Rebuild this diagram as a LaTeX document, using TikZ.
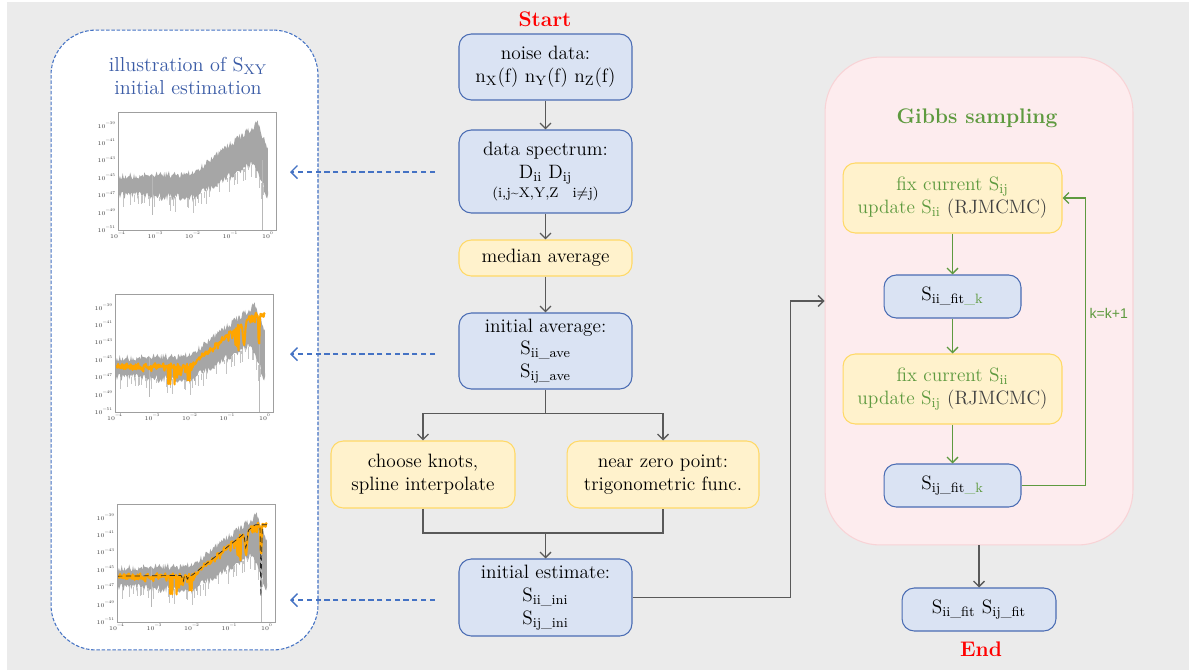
\documentclass[tikz,border=0pt]{standalone}
\usepackage{fontspec}
\newfontfamily\arialfont{Liberation Sans}
\usetikzlibrary{positioning,arrows.meta}
\definecolor{bgGrey}{HTML}{EBEBEB}
\definecolor{blueFill}{HTML}{DAE3F3}
\definecolor{blueLine}{HTML}{4A6CB3}
\definecolor{yellowFill}{HTML}{FFF2CC}
\definecolor{yellowLine}{HTML}{FFD966}
\definecolor{pinkFill}{HTML}{FDECEE}
\definecolor{pinkLine}{HTML}{F8D3D6}
\definecolor{gibbsGreen}{HTML}{5E9A3F}
\definecolor{arrowGrey}{HTML}{595959}
\definecolor{dashBlue}{HTML}{4472C4}
\definecolor{titleBlue}{HTML}{3A5BA6}
\definecolor{bandGrey}{HTML}{A6A6A6}
\definecolor{spikeGrey}{HTML}{C4C4C4}
\definecolor{specOrange}{HTML}{FFA500}
\definecolor{textGrey}{HTML}{404040}
\tikzset{
    boxText/.style={font=\fontsize{11}{13}\selectfont, align=center, inner sep=0pt},
    blueBox/.style={boxText, draw=blueLine, fill=blueFill, line width=0.6pt, rounded corners=7pt, minimum width=3.46cm},
    yellowBox/.style={boxText, draw=yellowLine, fill=yellowFill, line width=0.6pt, rounded corners=7pt},
    flowArrow/.style={draw=arrowGrey, line width=0.75pt, -{Straight Barb[length=1.1mm,width=2.2mm]}},
    flowLine/.style={draw=arrowGrey, line width=0.75pt},
    greenArrow/.style={draw=gibbsGreen, line width=0.75pt, -{Straight Barb[length=1.1mm,width=2.2mm]}},
    dashArrow/.style={draw=dashBlue, line width=0.8pt, dashed, dash pattern=on 3pt off 2pt, -{Straight Barb[length=1.3mm,width=2.6mm]}},
    redLabel/.style={font=\fontsize{12}{14}\selectfont\bfseries, text=red},
    tickLbl/.style={font=\fontsize{3.3}{4}\selectfont, text=black!75, inner sep=0.6pt},
}
\tikzset{
    specPlot/.pic={
        \pgfmathsetseed{17}
        \fill[white] (0,0) rectangle (158,118);
        \begin{scope}
            \clip (0,0) rectangle (158,118);
            \fill[bandGrey] plot[domain=0:1,samples=160] ({150*\x},{13+(-39-up(\x)-0.4*rand)*8.7})
                -- plot[domain=1:0,samples=160] ({150*\x},{13+(-39-lo(\x)-0.5*rand)*8.7}) -- cycle;
            \foreach \k in {1,...,50}{
                \pgfmathsetmacro\st{rnd}
                \pgfmathsetmacro\sd{lo(\st)-0.3-1.6*rnd}
                \draw[spikeGrey, line width=0.35pt] ({150*\st},{13+(-39-lo(\st))*8.7}) -- ({150*\st},{13+(-39-\sd)*8.7});
            }
            \draw[bandGrey!80, line width=0.4pt] (34,{13+5.9*8.7}) -- (34,{13+10.4*8.7});
            \draw[bandGrey!80, line width=0.4pt] (144,{13+4*8.7}) -- (144,{13+13.5*8.7});
            \ifnum#1>0
                \draw[specOrange, line width=1.2pt, line join=round]
                    plot[domain=0:1,samples=240] ({150*\x},{13+(-39-mid(\x)-dip(\x)-0.3*rand+spk(\x)*rnd^5)*8.7});
            \fi
            \ifnum#1>1
                \draw[black!85, line width=0.4pt, densely dashed]
                    plot[domain=0:1,samples=200] ({150*\x},{13+(-39-mid(\x)-0.7*dip(\x)-deep(\x))*8.7});
            \fi
        \end{scope}
        \draw[gray!75, line width=0.4pt] (0,0) rectangle (158,118);
        \foreach \v in {39,41,...,51}
            \node[tickLbl, anchor=east] at (-0.5,{13+(\v-39)*8.7}) {10\textsuperscript{−\v}};
        \foreach \e/\p in {4/0,3/0.25,2/0.5,1/0.75}
            \node[tickLbl, anchor=north] at ({150*\p},118.5) {10\textsuperscript{−\e}};
        \node[tickLbl, anchor=north] at (150,118.5) {10\textsuperscript{0}};
    }
}
\begin{document}
\begin{tikzpicture}[x=0.02cm, y=-0.02cm,
    declare function={
        up(\t)=\t<0.5 ? -44.9+0.6*\t : (\t<0.93 ? -44.6+(\t-0.5)*13.5 : -38.8-(\t-0.93)*45);
        lo(\t)=\t<0.5 ? -47.0-0.8*\t : (\t<0.9 ? -47.4+(\t-0.5)*10 : -43.4-(\t-0.9)*40);
        mid(\t)=\t<0.5 ? -45.8+0.2*\t : (\t<0.92 ? -45.7+(\t-0.5)*13.8 : -39.9);
        dip(\t)=-1.2*max(0,1-abs(\t-0.44)/0.01)-0.8*max(0,1-abs(\t-0.47)/0.008)-2.8*max(0,1-abs(\t-0.86)/0.015)-4.5*max(0,1-abs(\t-0.96)/0.007);
        spk(\t)=(\t>0.35 && \t<0.5) ? 2.5 : ((\t>0.8 && \t<0.9) ? 3 : 0.6);
        deep(\t)=-7*max(0,1-abs(\t-0.96)/0.006);
    }]
    \useasboundingbox (0,0) rectangle (1189,670);
    \fill[bgGrey] (7,2) rectangle (1189,670);

    % Gibbs sampling area
    \node[draw=pinkLine, fill=pinkFill, line width=0.6pt, rounded corners=1.1cm,
          minimum width=6.16cm, minimum height=9.76cm, inner sep=0pt] (gibbs) at (979,301) {};
    \node[font=\fontsize{12}{14}\selectfont\bfseries, text=gibbsGreen] (gibbsTitle) at (977,118) {Gibbs sampling};

    % illustration panel
    \node[draw=dashBlue, fill=white, line width=0.6pt, dashed, dash pattern=on 2pt off 1pt,
          rounded corners=0.9cm, minimum width=5.34cm, minimum height=12.4cm, inner sep=0pt] (panel) at (184.5,340) {};
    \node[font=\fontsize{11.5}{13}\selectfont, text=titleBlue, align=center] (panelTitle) at (188,76)
        {illustration of S\textsubscript{XY}\\initial estimation};
    \pic at (118,112) {specPlot=0};
    \pic at (115,294) {specPlot=1};
    \pic at (117,504) {specPlot=2};

    % main flow
    \node[redLabel] (startLbl) at (545,19) {Start};
    \node[blueBox, minimum height=1.32cm] (noise) at (545.5,67)
        {noise data:\\n\textsubscript{X}(f) n\textsubscript{Y}(f) n\textsubscript{Z}(f)};
    \node[blueBox, minimum height=1.66cm] (spec) at (545.5,171.5)
        {data spectrum:\\D\textsubscript{ii} D\textsubscript{ij}\\[-2pt]{\fontsize{8}{9}\selectfont(i,j\textasciitilde X,Y,Z\quad i$\neq$j)}};
    \node[yellowBox, minimum width=3.46cm, minimum height=0.72cm] (median) at (545.5,258) {median average};
    \node[blueBox, minimum height=1.52cm] (iniAve) at (545.5,351)
        {initial average:\\S\textsubscript{ii\_ave}\\S\textsubscript{ij\_ave}};
    \node[yellowBox, minimum width=3.68cm, minimum height=1.34cm] (knots) at (423,474.5)
        {choose knots,\\spline interpolate};
    \node[yellowBox, minimum width=3.84cm, minimum height=1.34cm] (zero) at (663,474.5)
        {near zero point:\\trigonometric func.};
    \node[blueBox, minimum height=1.54cm] (iniEst) at (545.5,597.5)
        {initial estimate:\\S\textsubscript{ii\_ini}\\S\textsubscript{ij\_ini}};

    \draw[flowArrow] (noise) -- (spec);
    \draw[flowArrow] (spec) -- (median);
    \draw[flowArrow] (median) -- (iniAve);
    \draw[flowLine] (iniAve.south) -- ++(0,24) coordinate (split);
    \draw[flowArrow] (split) -| (knots.north);
    \draw[flowArrow] (split) -| (zero.north);
    \coordinate (merge) at (545.5,533);
    \draw[flowLine] (knots.south) |- (merge) -| (zero.south);
    \draw[flowArrow] (merge) -- (iniEst.north);
    \draw[flowArrow] (iniEst.east) -- ++(158,0) |- (gibbs.west);

    % links to the illustrations
    \coordinate (d1) at (435,172);  \coordinate (p1) at (290,172);
    \coordinate (d2) at (435,354);  \coordinate (p2) at (290,354);
    \coordinate (d3) at (435,600);  \coordinate (p3) at (290,600);
    \draw[dashArrow] (d1) -- (p1);
    \draw[dashArrow] (d2) -- (p2);
    \draw[dashArrow] (d3) -- (p3);

    % Gibbs loop
    \node[yellowBox, minimum width=4.38cm, minimum height=1.4cm, text=gibbsGreen] (fixIJ) at (952.5,198)
        {fix current S\textsubscript{ij}\\update S\textsubscript{ii} {\color{textGrey}(RJMCMC)}};
    \node[blueBox, minimum width=2.74cm, minimum height=0.86cm] (siiFit) at (952.5,296.5)
        {S\textsubscript{ii\_fit{\color{gibbsGreen}\_k}}};
    \node[yellowBox, minimum width=4.38cm, minimum height=1.4cm, text=gibbsGreen] (fixII) at (952.5,389)
        {fix current S\textsubscript{ii}\\update S\textsubscript{ij} {\color{textGrey}(RJMCMC)}};
    \node[blueBox, minimum width=2.74cm, minimum height=0.86cm] (sijFit) at (952.5,485.5)
        {S\textsubscript{ij\_fit{\color{gibbsGreen}\_k}}};
    \draw[greenArrow] (fixIJ) -- (siiFit);
    \draw[greenArrow] (siiFit) -- (fixII);
    \draw[greenArrow] (fixII) -- (sijFit);
    \draw[greenArrow] (sijFit.east) -- ++(64,0) coordinate (loopCorner)
        |- node[pos=0.3, right, font=\arialfont\fontsize{8}{9}\selectfont, text=gibbsGreen, inner sep=2pt] {k=k+1} (fixIJ.east);

    % result
    \node[blueBox, minimum width=3.08cm, minimum height=0.86cm] (endBox) at (979,609.5)
        {S\textsubscript{ii\_fit} S\textsubscript{ij\_fit}};
    \node[redLabel] (endLbl) at (981,649) {End};
    \draw[flowArrow] (gibbs.south) -- (endBox.north);
\end{tikzpicture}
\end{document}
